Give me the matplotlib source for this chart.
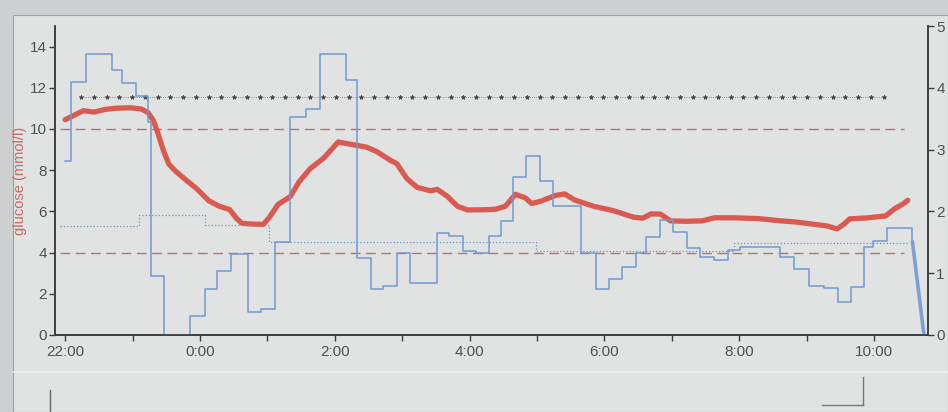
import numpy as np
import matplotlib
matplotlib.use("Agg")
from matplotlib import pyplot as plt
from matplotlib.lines import Line2D
from matplotlib.patches import Rectangle

plt.rcParams['font.family'] = ['Liberation Sans', 'DejaVu Sans']

# hours after 22:00
hour_ticks = [0, 2, 4, 6, 8, 10, 12]
hour_labels = ['22:00', '0:00', '2:00', '4:00', '6:00', '8:00', '10:00']

# sensor glucose (mmol/l), left axis
cgm_t = [0.0, 0.11, 0.27, 0.43, 0.59, 0.76, 0.97, 1.13, 1.23, 1.31, 1.38, 1.46,
         1.54, 1.64, 1.79, 1.95, 2.13, 2.28, 2.44, 2.54, 2.62, 2.74, 2.94, 3.03,
         3.16, 3.34, 3.47, 3.63, 3.84, 4.05, 4.25, 4.47, 4.62, 4.82, 4.92, 5.07,
         5.22, 5.42, 5.52, 5.67, 5.82, 5.97, 6.21, 6.38, 6.53, 6.68, 6.83, 6.92,
         7.07, 7.27, 7.41, 7.56, 7.85, 8.14, 8.43, 8.57, 8.69, 8.83, 8.98, 9.21,
         9.45, 9.63, 9.92, 10.29, 10.62, 10.83, 11.07, 11.31, 11.45, 11.55, 11.64,
         11.88, 12.17, 12.31, 12.43, 12.5]
cgm_mmol = [10.45, 10.63, 10.89, 10.82, 10.95, 11.01, 11.03, 10.97, 10.8, 10.41,
            9.76, 8.94, 8.29, 7.95, 7.53, 7.11, 6.52, 6.26, 6.09, 5.67, 5.43, 5.39,
            5.37, 5.71, 6.34, 6.72, 7.43, 8.06, 8.6, 9.37, 9.25, 9.12, 8.91, 8.49,
            8.32, 7.59, 7.17, 7.0, 7.07, 6.73, 6.25, 6.07, 6.08, 6.1, 6.25, 6.83,
            6.65, 6.38, 6.51, 6.77, 6.85, 6.55, 6.24, 6.03, 5.72, 5.67, 5.88, 5.87,
            5.54, 5.52, 5.54, 5.69, 5.69, 5.65, 5.54, 5.49, 5.39, 5.29, 5.15, 5.37,
            5.64, 5.68, 5.78, 6.14, 6.36, 6.54]

# insulin delivery rate (U/h), right axis, step changes
rate_t = [0.0, 0.08, 0.31, 0.69, 0.85, 1.05, 1.23, 1.28, 1.46, 1.85, 2.08, 2.25,
          2.46, 2.71, 2.9, 3.12, 3.34, 3.58, 3.78, 4.16, 4.33, 4.54, 4.72, 4.92,
          5.11, 5.51, 5.69, 5.9, 6.09, 6.29, 6.46, 6.65, 6.84, 7.04, 7.24, 7.66,
          7.87, 8.07, 8.26, 8.47, 8.62, 8.82, 9.01, 9.22, 9.42, 9.62, 9.83, 10.01,
          10.61, 10.81, 11.04, 11.25, 11.46, 11.66, 11.85, 11.98, 12.19, 12.57]
rate_uh = [2.81, 4.09, 4.54, 4.28, 4.08, 3.86, 3.45, 0.96, 0.0, 0.31, 0.75, 1.04,
           1.31, 0.37, 0.42, 1.5, 3.52, 3.66, 4.55, 4.13, 1.25, 0.75, 0.79, 1.32,
           0.84, 1.65, 1.61, 1.36, 1.33, 1.61, 1.84, 2.55, 2.89, 2.49, 2.08, 1.33,
           0.74, 0.9, 1.1, 1.32, 1.59, 1.86, 1.66, 1.41, 1.26, 1.21, 1.37, 1.42,
           1.26, 1.07, 0.8, 0.76, 0.53, 0.77, 1.43, 1.52, 1.73, 1.5]

# basal profile (U/h), right axis
basal_t = [-0.08, 1.1, 2.08, 3.03, 6.98, 9.92, 12.5]
basal_uh = [1.77, 1.94, 1.78, 1.5, 1.36, 1.49, 1.49]

# pump stop at the end
stop_t = [12.57, 12.74]
stop_uh = [1.5, 0.0]

# target range (mmol/l)
target_hi = 10
target_lo = 4
target_span = [-0.08, 12.44]

# starred reference level (U/h)
star_level = 3.85
star_t = np.linspace(0.24, 12.14, 64)

W, H = 948, 412
fig = plt.figure(figsize=(W / 100, H / 100), dpi=100, facecolor='#cdd0d1')


def px(x, y):
    return x / W, 1 - y / H


# screen panel behind the chart
fig.add_artist(Rectangle(px(13, 412), (W - 13) / W, (412 - 15) / H,
                         transform=fig.transFigure, facecolor='#e1e3e3',
                         edgecolor='#9b9d9e', lw=0.8, zorder=0))
fig.add_artist(Line2D([13 / W, 1], [1 - 372 / H] * 2, transform=fig.transFigure,
                      color='#f0f1f1', lw=1.2))
# scrollbar marks
fig.add_artist(Line2D([50 / W] * 2, [1 - 390 / H, 0], transform=fig.transFigure,
                      color='#666', lw=1))
fig.add_artist(Line2D([863 / W] * 2, [1 - 377 / H, 1 - 405 / H],
                      transform=fig.transFigure, color='#777', lw=1))
fig.add_artist(Line2D([822 / W, 863 / W], [1 - 405 / H] * 2,
                      transform=fig.transFigure, color='#777', lw=1))

l, b = px(55, 335)
r, t = px(928, 26)
ax = fig.add_axes([l, b, r - l, t - b])
ax.set_facecolor('none')
ax2 = ax.twinx()

ax.set_xlim(-0.15, 12.8)
ax.set_ylim(0, 15)
ax2.set_ylim(0, 5)

ax.plot(target_span, [target_hi] * 2, color='#b8716b', lw=1, dashes=(7, 4))
ax.plot(target_span, [target_lo] * 2, color='#b8716b', lw=1, dashes=(7, 4))

ax2.plot(basal_t, basal_uh, drawstyle='steps-post', color='#6e8fc8',
         lw=0.9, ls=':')
ax2.plot(star_t, [star_level] * len(star_t), color='#666', lw=0.6, ls=':',
         marker='*', ms=3.4, mec='#444', mfc='#444', mew=0.5)
ax2.plot(rate_t, rate_uh, drawstyle='steps-post', color='#7198d4', lw=1.1)
ax2.plot(stop_t, stop_uh, color='#7b9fd6', lw=2.6)

ax.plot(cgm_t, cgm_mmol, color='#d95a50', lw=3.8, solid_capstyle='round',
        solid_joinstyle='round', zorder=5)

ax.set_xticks(hour_ticks)
ax.set_xticklabels(hour_labels)
ax.set_xticks(range(1, 13, 2), minor=True)
ax.set_yticks(range(0, 15, 2))
ax2.set_yticks(range(0, 6))

for a in (ax, ax2):
    a.spines['top'].set_visible(False)
    for s in a.spines.values():
        s.set_color('#3a3a3a')
        s.set_linewidth(1.1)
    a.tick_params(colors='#3a3a3a', labelcolor='#505050', labelsize=11,
                  length=4, width=1, pad=2)
ax.tick_params(axis='x', which='minor', length=4, width=1, colors='#3a3a3a')
ax.tick_params(axis='x', pad=3)

ax.set_ylabel('glucose (mmol/l)', color='#c8665e', fontsize=10.5, labelpad=2)

fig.savefig('out.png', dpi=100, facecolor=fig.get_facecolor())
